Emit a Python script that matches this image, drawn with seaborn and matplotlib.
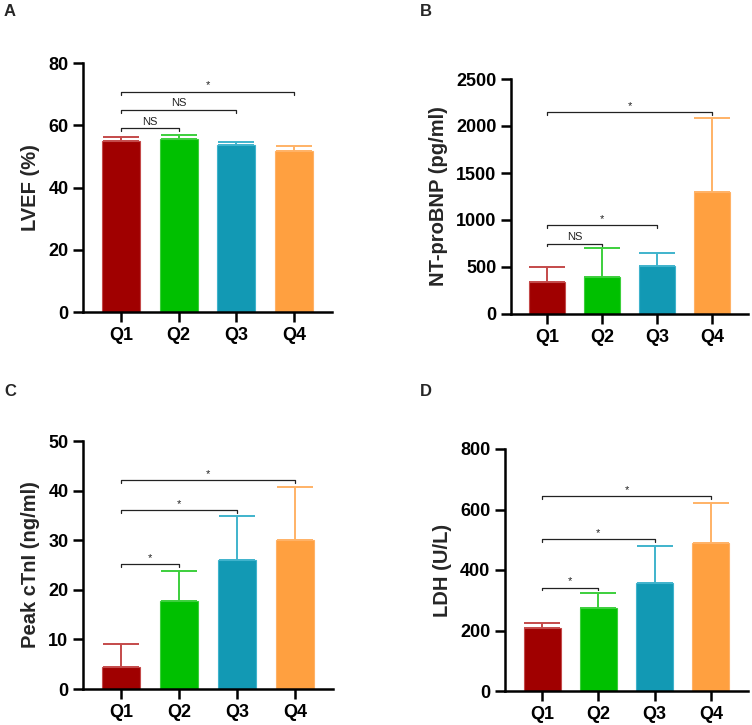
import numpy as np
import pandas as pd
import matplotlib
matplotlib.use("Agg")
import matplotlib.pyplot as plt
import seaborn as sns

# groups and colours
groups = ["Q1", "Q2", "Q3", "Q4"]
bar_colors = ["#a00000", "#00c000", "#1299b4", "#ffa040"]
err_colors = ["#c44a4a", "#3ccf3c", "#3fb3cc", "#ffb266"]

# values (mean, upper error end)
lvef_mean = [54.8, 55.6, 53.5, 51.7]
lvef_top = [56.3, 57.0, 54.7, 53.2]
bnp_mean = [338, 394, 511, 1296]
bnp_top = [504, 700, 650, 2080]
ctni_mean = [4.4, 17.8, 26.0, 30.0]
ctni_top = [9.1, 23.8, 34.8, 40.7]
ldh_mean = [208, 276, 358, 490]
ldh_top = [226, 323, 479, 621]

# significance brackets: (from, to, height, label)
lvef_sig = [(0, 1, 59.2, "NS"), (0, 2, 65.0, "NS"), (0, 3, 70.8, "*")]
bnp_sig = [(0, 1, 749, "NS"), (0, 2, 945, "*"), (0, 3, 2144, "*")]
ctni_sig = [(0, 1, 25.2, "*"), (0, 2, 36.0, "*"), (0, 3, 42.1, "*")]
ldh_sig = [(0, 1, 342, "*"), (0, 2, 501, "*"), (0, 3, 644, "*")]

sns.set_theme(style="ticks")
plt.rcParams["font.family"] = ["Liberation Sans", "DejaVu Sans"]

W, H = 752, 725
fig = plt.figure(figsize=(W / 100, H / 100), dpi=100)


def px_axes(left, top, right, bottom):
    return fig.add_axes([left / W, 1 - bottom / H, (right - left) / W, (bottom - top) / H])


def panel(ax, means, tops, sig, ylim, ystep, ylabel):
    df = pd.DataFrame({"group": groups, "value": means})
    sns.barplot(data=df, x="group", y="value", hue="group", palette=bar_colors,
                width=0.66, legend=False, ax=ax, saturation=1, linewidth=0)
    for patch, ec in zip(ax.patches, err_colors):
        patch.set_edgecolor(ec)
        patch.set_linewidth(0.8)
    x = np.arange(len(groups))
    upper = np.array(tops) - np.array(means)
    for i in x:
        ax.errorbar(i, means[i], yerr=[[0], [upper[i]]], fmt="none",
                    ecolor=err_colors[i], elinewidth=1.4, capsize=13, capthick=1.4, zorder=1)
    ax.set_xlim(-0.66, 3.66)
    ax.set_ylim(0, ylim)
    ax.set_yticks(np.arange(0, ylim + ystep / 2, ystep))
    ax.set_xlabel("")
    ax.set_ylabel(ylabel, fontsize=14.5, fontweight="bold", labelpad=6)
    sns.despine(ax=ax)
    for s in ["left", "bottom"]:
        ax.spines[s].set_linewidth(1.8)
        ax.spines[s].set_color("black")
    ax.tick_params(axis="both", width=1.8, length=7, labelsize=13, colors="black")
    for lab in ax.get_xticklabels() + ax.get_yticklabels():
        lab.set_fontweight("bold")
    d = ylim * 0.012
    for a, b, h, t in sig:
        ax.plot([a, a, b, b], [h - d, h, h, h - d], color="#222222", lw=0.9, clip_on=False)
        ax.text((a + b) / 2, h + d * 0.4, t, ha="center", va="bottom",
                fontsize=8, color="#222222")


axA = px_axes(83, 63, 332, 312)
panel(axA, lvef_mean, lvef_top, lvef_sig, 80, 20, "LVEF (%)")
axB = px_axes(511, 79, 748, 314)
panel(axB, bnp_mean, bnp_top, bnp_sig, 2500, 500, "NT-proBNP (pg/ml)")
axC = px_axes(83, 441, 333, 689)
panel(axC, ctni_mean, ctni_top, ctni_sig, 50, 10, "Peak cTnI (ng/ml)")
axD = px_axes(505, 449, 748, 691)
panel(axD, ldh_mean, ldh_top, ldh_sig, 800, 200, "LDH (U/L)")

for lab, (x, y) in zip("ABCD", [(4, 12), (420, 12), (4, 392), (420, 392)]):
    fig.text(x / W, 1 - y / H, lab, fontsize=12, fontweight="bold", va="center", ha="left")

fig.savefig("out.png", dpi=100, facecolor="white")
